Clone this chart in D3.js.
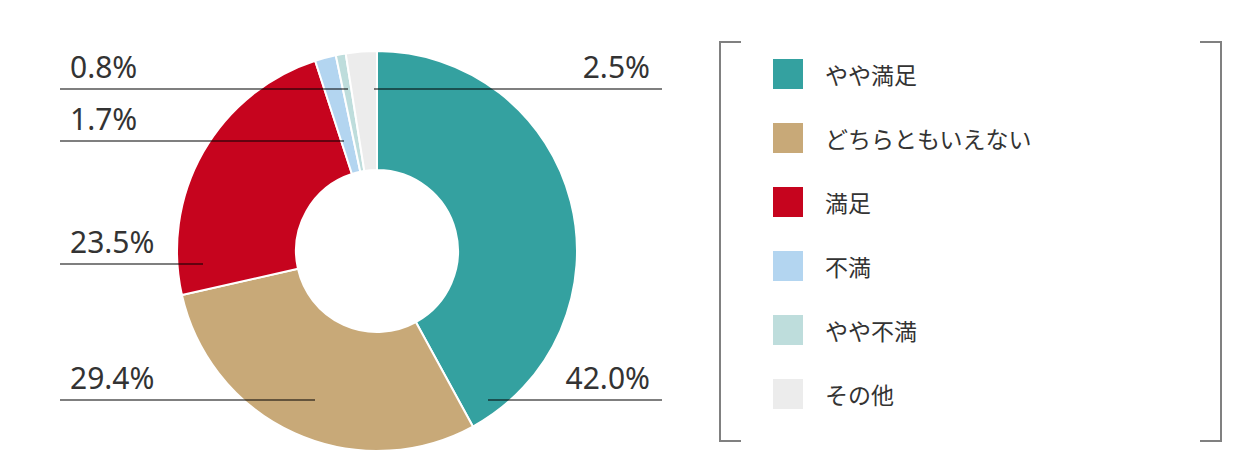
<!DOCTYPE html>
<html>
<head>
<meta charset="utf-8">
<script src="https://cdn.jsdelivr.net/npm/d3@7"></script>
<style>
html,body{margin:0;padding:0;background:#fff;}
svg{display:block;}
</style>
</head>
<body>
<svg id="chart" width="1260" height="473"></svg>
<script>
// ---- data ----
const categories = ["やや満足", "どちらともいえない", "満足", "不満", "やや不満", "その他"];
const values = [42.0, 29.4, 23.5, 1.7, 0.8, 2.5];
const valueLabels = ["42.0%", "29.4%", "23.5%", "1.7%", "0.8%", "2.5%"];
const colors = ["#34a1a0", "#c8a978", "#c6041e", "#b3d5f0", "#bedddc", "#ececec"];

// ---- layout (label placement, not data) ----
const labelLayout = [
  {side: "right", y: 400, inner: 488},
  {side: "left",  y: 400, inner: 315},
  {side: "left",  y: 264, inner: 203},
  {side: "left",  y: 141, inner: 344},
  {side: "left",  y: 89,  inner: 348},
  {side: "right", y: 89,  inner: 374}
];

const svg = d3.select("#chart");
const cx = 377, cy = 251, rOuter = 200, rInner = 81;

const pie = d3.pie().sort(null).value(d => d).startAngle(0).endAngle(2 * Math.PI);
const arc = d3.arc().innerRadius(rInner).outerRadius(rOuter);
const arcs = pie(values);

const g = svg.append("g").attr("transform", `translate(${cx},${cy})`);
g.selectAll("path.slice")
  .data(arcs)
  .enter().append("path")
  .attr("class", "slice")
  .attr("d", arc)
  .attr("fill", (d, i) => colors[i])
  .attr("stroke", "#fff")
  .attr("stroke-width", 2)
  .attr("stroke-linejoin", "round");

// leader lines and value labels
const leftX = 60, rightX = 662;
const labels = svg.append("g");
labelLayout.forEach((L, i) => {
  const x1 = L.side === "left" ? leftX : L.inner;
  const x2 = L.side === "left" ? L.inner : rightX;
  labels.append("line")
    .attr("x1", x1).attr("x2", x2)
    .attr("y1", L.y).attr("y2", L.y)
    .attr("stroke", "#000")
    .attr("stroke-opacity", 0.5)
    .attr("stroke-width", 2);
  labels.append("text")
    .attr("x", L.side === "left" ? 70 : 650)
    .attr("y", L.y - 11)
    .attr("text-anchor", L.side === "left" ? "start" : "end")
    .attr("font-family", "'Noto Sans', 'Open Sans', sans-serif")
    .attr("font-size", 30)
    .attr("fill", "#333")
    .text(valueLabels[i]);
});

// legend bracket
const lg = svg.append("g");
const bx1 = 720, bx2 = 1221, by1 = 42, by2 = 441, arm = 21;
lg.append("path")
  .attr("d", `M${bx1 + arm},${by1} H${bx1} V${by2} H${bx1 + arm}`)
  .attr("fill", "none").attr("stroke", "#808080").attr("stroke-width", 2);
lg.append("path")
  .attr("d", `M${bx2 - arm},${by1} H${bx2} V${by2} H${bx2 - arm}`)
  .attr("fill", "none").attr("stroke", "#808080").attr("stroke-width", 2);

const legendY = d3.scalePoint().domain(categories).range([74, 394]);
const items = lg.selectAll("g.item")
  .data(categories)
  .enter().append("g")
  .attr("class", "item")
  .attr("transform", d => `translate(773,${legendY(d)})`);
items.append("rect")
  .attr("x", 0).attr("y", -15)
  .attr("width", 30).attr("height", 30)
  .attr("fill", (d, i) => colors[i]);
items.append("text")
  .attr("x", 52).attr("y", 0)
  .attr("dominant-baseline", "central")
  .attr("font-family", "'Noto Sans CJK JP', 'Noto Sans', sans-serif")
  .attr("font-size", 23)
  .attr("fill", "#333")
  .text(d => d);
</script>
</body>
</html>
